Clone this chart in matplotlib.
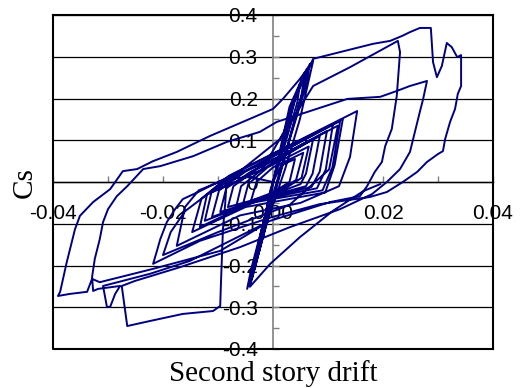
import numpy as np
import matplotlib.pyplot as plt
from matplotlib.ticker import MultipleLocator, FixedLocator, FixedFormatter

# Ciclos pequenos e médios em torno da origem
drift_small = [0.0000, 0.0015, 0.0040, 0.0030, 0.0000, -0.0040, -0.0030,
               0.0000, 0.0055, 0.0042, 0.0000, -0.0055, -0.0045,
               -0.0010, 0.0065, 0.0052, 0.0005, -0.0068, -0.0058,
               -0.0020, 0.0073, 0.0060, 0.0050, 0.0000, -0.0082, -0.0072,
               -0.0030, 0.0085, 0.0072, 0.0060, -0.0010, -0.0096, -0.0085,
               -0.0040, 0.0098, 0.0085, 0.0070, -0.0020, -0.0111, -0.0098,
               -0.0050, 0.0109, 0.0096, 0.0080, -0.0030, -0.0124, -0.0112,
               -0.0060, 0.0122, 0.0108, 0.0090, -0.0040, -0.0133, -0.0120,
               -0.0070, 0.0127, 0.0112, 0.0095, -0.0050, -0.0147, -0.0130,
               -0.0080, 0.0153, 0.0140, 0.0120, 0.0050, -0.0060, -0.0175, -0.0160,
               -0.0135, -0.0080, 0.0010, 0.0118, 0.0102, 0.0030, -0.0100,
               -0.0200, -0.0186, -0.0160, -0.0120, -0.0060]
cs_small = [0.000, 0.040, 0.055, 0.000, -0.025, -0.045, 0.000,
            0.035, 0.070, 0.005, -0.030, -0.055, -0.005,
            0.035, 0.085, 0.010, -0.030, -0.065, -0.010,
            0.030, 0.103, 0.020, -0.005, -0.030, -0.060, -0.010,
            0.030, 0.110, 0.020, -0.010, -0.035, -0.072, -0.015,
            0.025, 0.122, 0.025, -0.012, -0.040, -0.084, -0.020,
            0.025, 0.139, 0.030, -0.015, -0.045, -0.093, -0.025,
            0.020, 0.146, 0.035, -0.020, -0.050, -0.108, -0.030,
            0.020, 0.151, 0.040, -0.025, -0.060, -0.120, -0.040,
            0.015, 0.170, 0.060, -0.010, -0.050, -0.080, -0.153, -0.060,
            -0.020, 0.010, 0.060, 0.135, 0.030, -0.055, -0.120,
            -0.175, -0.120, -0.070, -0.030, 0.005]

# Ciclos "estrangulados" de grande rigidez
drift_steep = [-0.0020, 0.0020, 0.0040, 0.0049, 0.0044, 0.0015, -0.0005,
               -0.0020, -0.0030, -0.0025, 0.0000, 0.0030, 0.0058, 0.0052,
               0.0025, 0.0000, -0.0025, -0.0033, -0.0028, 0.0000, 0.0045,
               0.0062, 0.0055, 0.0008, -0.0038, -0.0044, -0.0036, 0.0000,
               0.0035, 0.0067, 0.0060, 0.0030, 0.0005, -0.0030, -0.0047,
               -0.0040, -0.0010, 0.0010, 0.0040, 0.0073]
cs_steep = [0.030, 0.120, 0.200, 0.235, 0.190, 0.060, -0.020,
            -0.120, -0.180, -0.140, 0.000, 0.180, 0.263, 0.210,
            0.080, -0.030, -0.160, -0.208, -0.160, 0.000, 0.220,
            0.272, 0.220, 0.000, -0.230, -0.245, -0.200, 0.000,
            0.190, 0.283, 0.230, 0.100, -0.020, -0.190, -0.256,
            -0.210, -0.060, 0.050, 0.200, 0.295]

# Grandes ciclos (lado positivo)
drift_big_pos = [0.0158, 0.0182, 0.0213, 0.0235, 0.0249, 0.0267, 0.0287,
                 0.0289, 0.0291, 0.0298, 0.0307, 0.0316, 0.0325, 0.0335,
                 0.0342, 0.0342, 0.0336, 0.0331, 0.0322, 0.0313, 0.0309,
                 0.0300, 0.0280, 0.0262, 0.0236, 0.0207, 0.0176, 0.0085,
                 -0.0002, -0.0078, -0.0133, -0.0218, -0.0211, -0.0205,
                 -0.0193, -0.0178, -0.0164, -0.0133, -0.0060, 0.0013,
                 0.0073, 0.0140, 0.0227, 0.0231, 0.0225, 0.0216, 0.0204,
                 0.0198, 0.0185, 0.0171, 0.0158, 0.0104, -0.0005, -0.0151,
                 -0.0224, -0.0309, -0.0302, -0.0296, -0.0287, -0.0278,
                 -0.0318, -0.0327, -0.0329, -0.0324, -0.0315, -0.0309,
                 -0.0300, -0.0284, -0.0265, -0.0236, -0.0205, -0.0145,
                 -0.0084, -0.0024, 0.0007, 0.0135, 0.0195, 0.0225, 0.0249,
                 0.0280, 0.0273, 0.0267, 0.0258, 0.0249, 0.0231, 0.0207,
                 0.0180, 0.0122, 0.0031, -0.0060, -0.0169, -0.0251, -0.0275]
cs_big_pos = [0.323, 0.331, 0.338, 0.350, 0.359, 0.369, 0.369,
              0.326, 0.287, 0.251, 0.278, 0.333, 0.323, 0.299,
              0.304, 0.230, 0.211, 0.175, 0.144, 0.103, 0.074,
              0.067, 0.048, 0.024, 0.000, -0.024, -0.036, -0.053,
              -0.084, -0.117, -0.141, -0.196, -0.165, -0.137,
              -0.096, -0.065, -0.041, -0.022, 0.026, 0.103,
              0.230, 0.275, 0.338, 0.311, 0.206, 0.127, 0.086,
              0.048, 0.024, -0.010, -0.034, -0.048, -0.093, -0.189,
              -0.220, -0.249, -0.299, -0.299, -0.268, -0.249,
              -0.256, -0.261, -0.228, -0.184, -0.137, -0.096,
              -0.065, -0.034, -0.010, 0.031, 0.038, 0.062,
              0.096, 0.120, 0.144, 0.199, 0.204, 0.218, 0.230,
              0.242, 0.199, 0.168, 0.120, 0.072, 0.031, 0.000,
              -0.029, -0.065, -0.108, -0.156, -0.204, -0.237, -0.249]

# Grandes ciclos (lado negativo)
drift_big_neg = [-0.0265, -0.0224, -0.0164, -0.0109, -0.0096, -0.0095,
                 -0.0091, -0.0087, -0.0084, -0.0042, 0.0000, -0.0015,
                 -0.0096, -0.0218, -0.0315, -0.0329, -0.0336, -0.0338,
                 -0.0369, -0.0391, -0.0387, -0.0375, -0.0360, -0.0351,
                 -0.0327, -0.0296, -0.0273, -0.0247, -0.0218, -0.0175,
                 -0.0115, -0.0055, 0.0000, 0.0018, 0.0049, 0.0073,
                 0.0049, 0.0022, -0.0015, -0.0042, -0.0005, 0.0049,
                 0.0109, 0.0164, 0.0195]
cs_big_neg = [-0.345, -0.333, -0.316, -0.309, -0.297, -0.256,
              -0.113, -0.053, 0.007, 0.012, 0.000, -0.101,
              -0.165, -0.208, -0.240, -0.232, -0.256, -0.263,
              -0.268, -0.273, -0.263, -0.192, -0.113, -0.081,
              -0.048, -0.017, 0.026, 0.031, 0.050, 0.072,
              0.110, 0.144, 0.175, 0.199, 0.247, 0.290,
              0.151, 0.031, -0.113, -0.251, -0.196, -0.132,
              -0.069, -0.022, -0.005]

drift = np.concatenate([drift_small, drift_steep, drift_big_pos, drift_big_neg])
cs = np.concatenate([cs_small, cs_steep, cs_big_pos, cs_big_neg])

x_ticks = [-0.04, -0.02, 0.0, 0.02, 0.04]
x_labels = ["-0.04", "-0.02", "0.00", "0.02", "0.04"]
y_ticks = [-0.4, -0.3, -0.2, -0.1, 0.0, 0.1, 0.2, 0.3, 0.4]
y_labels = ["-0.4", "-0.3", "-0.2", "-0.1", "0", "0.1", "0.2", "0.3", "0.4"]

fig = plt.figure(figsize=(5.21, 3.88), dpi=100)
ax = fig.add_axes([53 / 521, 39 / 388, 440 / 521, 334 / 388])

ax.plot(drift, cs, color="#000080", lw=1.4, zorder=3)

ax.set_xlim(-0.04, 0.04)
ax.set_ylim(-0.4, 0.4)

# eixos cruzando na origem
ax.spines["left"].set_position(("data", 0))
ax.spines["bottom"].set_position(("data", 0))
ax.spines["left"].set_color("#808080")
ax.spines["left"].set_linewidth(1.2)
ax.spines["bottom"].set_color("black")
ax.spines["bottom"].set_linewidth(1.0)
for s in ["top", "right"]:
    ax.spines[s].set_color("black")
    ax.spines[s].set_linewidth(1.5)
# moldura externa (lados esquerdo e inferior)
ax.plot([0, 0, 1], [1, 0, 0], transform=ax.transAxes, color="black",
        lw=1.5, clip_on=False, zorder=4)

ax.xaxis.set_major_locator(FixedLocator(x_ticks))
ax.xaxis.set_major_formatter(FixedFormatter(x_labels))
ax.xaxis.set_minor_locator(MultipleLocator(0.01))
ax.yaxis.set_major_locator(FixedLocator(y_ticks))
ax.yaxis.set_major_formatter(FixedFormatter(y_labels))
ax.yaxis.set_minor_locator(MultipleLocator(0.05))

ax.tick_params(which="both", direction="in", color="#808080", length=4, width=1)
ax.tick_params(axis="x", labelsize=15, pad=16)
ax.tick_params(axis="y", labelsize=15, pad=11)
for lab in ax.get_xticklabels() + ax.get_yticklabels():
    lab.set_fontfamily("Liberation Sans")
    lab.set_zorder(5)

ax.yaxis.grid(True, which="major", color="black", lw=0.9)
ax.set_axisbelow(True)

fig.text(273 / 521, 1 - 374 / 388, "Second story drift", family="Liberation Serif",
         fontsize=21, ha="center", va="center")
fig.text(25 / 521, 1 - 183 / 388, "Cs", family="Liberation Serif",
         fontsize=21, ha="center", va="center", rotation=90)

fig.savefig("out.png", dpi=100)
